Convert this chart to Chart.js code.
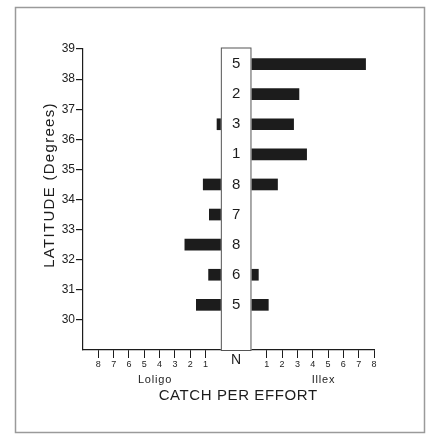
<!DOCTYPE html>
<html>
<head>
<meta charset="utf-8">
<script src="https://cdn.jsdelivr.net/npm/chart.js@4/dist/chart.umd.min.js"></script>
<style>
	html, body { margin: 0; padding: 0; background: #fff; }
	#wrap { width: 432px; height: 436px; }
</style>
</head>
<body>
<div id="wrap"><canvas id="catch-chart" width="432" height="436"></canvas></div>
<script>
// latitude bands (mid points), hauls per band and catch per effort
const latitudes = [38.5, 37.5, 36.5, 35.5, 34.5, 33.5, 32.5, 31.5, 30.5];
const hauls = [5, 2, 3, 1, 8, 7, 8, 6, 5];
const loligo = [null, null, 0.25, null, 1.15, 0.75, 2.35, 0.8, 1.6];
const illex = [7.45, 3.1, 2.75, 3.6, 1.7, null, null, 0.45, 1.1];
const latTicks = [30, 31, 32, 33, 34, 35, 36, 37, 38, 39];
const loligoTicks = [8, 7, 6, 5, 4, 3, 2, 1];
const illexTicks = [1, 2, 3, 4, 5, 6, 7, 8];

// half width of the N column, in catch units
const COL = 1;
const ink = '#1c1c1c';
const font = "'Liberation Sans', Arial, sans-serif";

(function () {
	const $chart = document.getElementById('catch-chart');

	const extras = {
		id: 'extras',
		beforeDraw(chart) {
			const ctx = chart.ctx;
			ctx.save();
			ctx.strokeStyle = '#9a9a9a';
			ctx.lineWidth = 1.5;
			ctx.strokeRect(15.5, 7.5, 409, 425);
			ctx.restore();
		},
		afterDatasetsDraw(chart) {
			const { ctx, scales: { x, y } } = chart;
			const left = x.getPixelForValue(-COL);
			const right = x.getPixelForValue(COL);
			const top = y.getPixelForValue(39) - 1.5;
			const bottom = y.getPixelForValue(29);
			const mid = (left + right) / 2;
			ctx.save();
			ctx.fillStyle = '#fff';
			ctx.fillRect(left, top, right - left, bottom - top);
			ctx.strokeStyle = '#555';
			ctx.lineWidth = 1;
			ctx.strokeRect(left + 0.5, top + 0.5, right - left - 1, bottom - top);

			ctx.fillStyle = ink;
			ctx.textAlign = 'center';
			ctx.textBaseline = 'middle';
			ctx.font = '15px ' + font;
			hauls.forEach((n, i) => {
				ctx.fillText(String(n), mid, y.getPixelForValue(latitudes[i]));
			});

			// axis texts
			ctx.font = '14px ' + font;
			ctx.fillText('N', mid, bottom + 10);
			ctx.letterSpacing = '0.8px';
			ctx.font = '11px ' + font;
			ctx.fillText('Loligo', x.getPixelForValue(-5.3), bottom + 30);
			ctx.fillText('Illex', x.getPixelForValue(5.7), bottom + 30);
			ctx.letterSpacing = '0.6px';
			ctx.font = '15px ' + font;
			ctx.fillText('CATCH PER EFFORT', mid + 2, bottom + 46);
			ctx.restore();

			ctx.save();
			ctx.fillStyle = ink;
			ctx.textAlign = 'center';
			ctx.textBaseline = 'middle';
			ctx.letterSpacing = '1.3px';
			ctx.font = '15px ' + font;
			ctx.translate(50, 185);
			ctx.rotate(-Math.PI / 2);
			ctx.fillText('LATITUDE (Degrees)', 0, 0);
			ctx.restore();
		}
	};

	const bars = (values, toRange) => latitudes
		.map((lat, i) => ({ y: lat, v: values[i] }))
		.filter((p) => p.v != null)
		.map((p) => ({ y: p.y, x: toRange(p.v) }));

	const data = {
		datasets: [
			{
				label: 'Loligo',
				data: bars(loligo, (v) => [-COL - v, -COL]),
				backgroundColor: ink,
				barThickness: 11,
			},
			{
				label: 'Illex',
				data: bars(illex, (v) => [COL, COL + v]),
				backgroundColor: ink,
				barThickness: 11,
			},
		],
	};

	const config = {
		type: 'bar',
		data: data,
		plugins: [extras],
		options: {
			indexAxis: 'y',
			responsive: false,
			animation: false,
			grouped: false,
			layout: { padding: { left: 0, right: 58, top: 49, bottom: 0 } },
			scales: {
				y: {
					type: 'linear',
					min: 29,
					max: 39,
					offset: false,
					afterBuildTicks: (scale) => { scale.ticks = latTicks.map((v) => ({ value: v })); },
					afterFit: (scale) => { scale.width = 83; },
					grid: { offset: false, drawOnChartArea: false, tickLength: 7, tickColor: ink, lineWidth: 1.2 },
					border: { color: ink, width: 1.2 },
					ticks: { color: ink, padding: 1, font: { family: font, size: 12 } },
				},
				x: {
					type: 'linear',
					min: -COL - 9,
					max: COL + 8,
					afterBuildTicks: (scale) => {
						scale.ticks = loligoTicks.map((t) => ({ value: -COL - t }))
							.concat(illexTicks.map((t) => ({ value: COL + t })));
					},
					afterFit: (scale) => { scale.height = 86; },
					grid: { drawOnChartArea: false, tickLength: 8, tickColor: ink, lineWidth: 1 },
					border: { color: ink, width: 1.2 },
					ticks: {
						color: ink,
						padding: 1,
						maxRotation: 0,
						autoSkip: false,
						font: { family: font, size: 9 },
						callback: (value) => String(Math.abs(value) - COL),
					},
				},
			},
			plugins: {
				legend: { display: false },
				tooltip: { enabled: false },
			},
		},
	};

	new Chart($chart, config);
})();
</script>
</body>
</html>
